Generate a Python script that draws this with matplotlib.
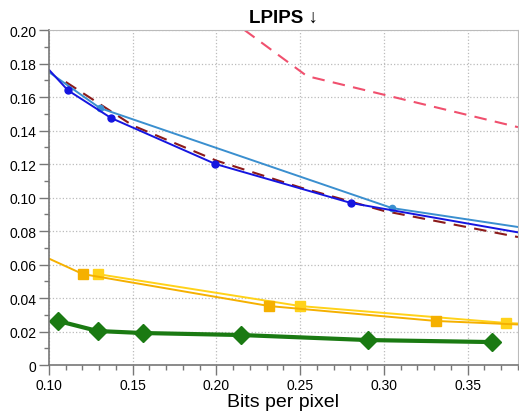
import numpy as np
import matplotlib.pyplot as plt
from matplotlib.ticker import MultipleLocator, FuncFormatter

plt.rcParams['font.family'] = ['Liberation Sans', 'DejaVu Sans']

# series
red_x = [0.2167, 0.254, 0.38]
red_y = [0.2, 0.1725, 0.142]

darkred_x = [0.11, 0.15, 0.20, 0.25, 0.30, 0.38]
darkred_y = [0.169, 0.143, 0.122, 0.106, 0.092, 0.0764]

blue_x = [0.0995, 0.1113, 0.137, 0.1994, 0.2804, 0.38]
blue_y = [0.1768, 0.164, 0.1475, 0.120, 0.0967, 0.0792]

lblue_x = [0.0995, 0.1304, 0.3048, 0.38]
lblue_y = [0.1752, 0.1534, 0.0937, 0.0824]

orange_x = [0.0985, 0.1202, 0.2315, 0.331, 0.38]
orange_y = [0.0642, 0.0543, 0.0352, 0.0263, 0.0242]

yellow_x = [0.129, 0.25, 0.373, 0.38]
yellow_y = [0.0543, 0.0352, 0.0251, 0.0248]

green_x = [0.1054, 0.129, 0.156, 0.2149, 0.2905, 0.3643]
green_y = [0.0263, 0.0203, 0.0191, 0.0179, 0.0149, 0.0137]

fig = plt.figure(figsize=(5.19, 4.14), dpi=100)
ax = fig.add_axes([0.0944, 0.1159, 0.9036, 0.8092])

ax.plot(red_x, red_y, color='#f0506e', lw=1.5, dashes=(6, 4))
ax.plot(darkred_x, darkred_y, color='#8b1a1a', lw=1.5, dashes=(6, 4))
ax.plot(lblue_x, lblue_y, color='#3a8fcf', lw=1.4, marker='o', ms=4.5, markevery=[1, 2])
ax.plot(blue_x, blue_y, color='#1515e0', lw=1.4, marker='o', ms=5, markevery=[1, 2, 3, 4])
ax.plot(yellow_x, yellow_y, color='#ffd21a', lw=1.4, marker='s', ms=6.5, markevery=[0, 1, 2])
ax.plot(orange_x, orange_y, color='#f5b000', lw=1.4, marker='s', ms=6.5, markevery=[1, 2, 3])
ax.plot(green_x, green_y, color='#1a7a12', lw=3, marker='D', ms=9)

ax.set_xlim(0.10, 0.38)
ax.set_ylim(0, 0.20)
ax.xaxis.set_major_locator(MultipleLocator(0.05))
ax.xaxis.set_minor_locator(MultipleLocator(0.01))
ax.yaxis.set_major_locator(MultipleLocator(0.02))
ax.yaxis.set_minor_locator(MultipleLocator(0.01))
ax.xaxis.set_major_formatter(FuncFormatter(lambda v, p: f'{v:.2f}'))
ax.yaxis.set_major_formatter(FuncFormatter(lambda v, p: '0' if abs(v) < 1e-9 else f'{v:.2f}'))

ax.grid(True, which='major', linestyle=':', color='#bbbbbb', lw=0.9)
ax.tick_params(which='major', length=7, width=1, color='#777777', labelsize=10, pad=2)
ax.tick_params(which='minor', length=3.5, width=1, color='#777777')
for s in ['left', 'bottom']:
    ax.spines[s].set_color('#777777')
    ax.spines[s].set_linewidth(1.2)
for s in ['top', 'right']:
    ax.spines[s].set_color('#bbbbbb')

ax.set_title('LPIPS ↓', fontsize=13.5, fontweight='bold', pad=6)
ax.set_xlabel('Bits per pixel', fontsize=14, labelpad=1)

fig.savefig('out.png', dpi=100)
